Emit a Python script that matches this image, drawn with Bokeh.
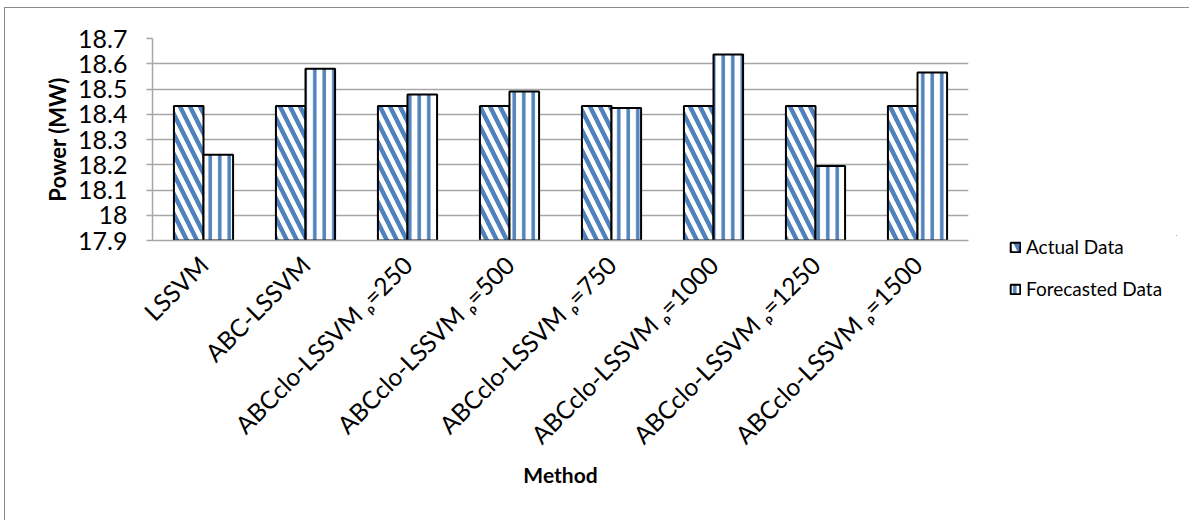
import math
from bokeh.plotting import figure
from bokeh.models import (ColumnDataSource, FactorRange, Range1d, FixedTicker,
                          CustomJSTickFormatter, Legend, LegendItem)
from bokeh.transform import dodge
from bokeh.embed import file_html
from bokeh.resources import INLINE

# ---- data ----
methods = ["LSSVM", "ABC-LSSVM", "ABCclo-LSSVM \u1d68=250", "ABCclo-LSSVM \u1d68=500",
           "ABCclo-LSSVM \u1d68=750", "ABCclo-LSSVM \u1d68=1000",
           "ABCclo-LSSVM \u1d68=1250", "ABCclo-LSSVM \u1d68=1500"]
actual = [18.433, 18.433, 18.433, 18.433, 18.433, 18.433, 18.433, 18.433]
forecast = [18.24, 18.58, 18.478, 18.49, 18.425, 18.637, 18.195, 18.565]
y_ticks = [17.9, 18.0, 18.1, 18.2, 18.3, 18.4, 18.5, 18.6, 18.7]
y_min, y_max = 17.9, 18.7
series_names = ["Actual Data", "Forecasted Data"]

BLUE = "#4F81BD"
GRID = "#A6A6A6"
FONT = "Lato"

ACT_STYLE = dict(fill_color="white", line_color="black", line_width=2,
                 hatch_pattern="left_diagonal_line", hatch_color=BLUE,
                 hatch_weight=4.5, hatch_scale=20)
FC_STYLE = dict(fill_color="white", line_color="black", line_width=2,
                hatch_pattern="vertical_line", hatch_color=BLUE,
                hatch_weight=3.5, hatch_scale=9.5)

src = ColumnDataSource(data=dict(method=methods, actual=actual, forecast=forecast))

p = figure(x_range=FactorRange(*methods), y_range=Range1d(y_min, y_max),
           width=1185, height=513, output_backend="svg", toolbar_location=None,
           min_border_left=147, min_border_top=30, min_border_right=222,
           min_border_bottom=281)
p.styles = {"margin-left": "4px", "margin-top": "7px",
            "border-left": "1px solid #8c8c8c", "border-top": "1px solid #8c8c8c"}
p.outline_line_color = None
p.background_fill_color = "white"
p.border_fill_color = "white"

bw = 0.29
p.vbar(x=dodge("method", -bw / 2, range=p.x_range), top="actual", bottom=y_min,
       width=bw, source=src, **ACT_STYLE)
p.vbar(x=dodge("method", bw / 2, range=p.x_range), top="forecast", bottom=y_min,
       width=bw, source=src, **FC_STYLE)

# grid
p.xgrid.grid_line_color = None
p.ygrid.grid_line_color = GRID
p.ygrid.grid_line_width = 1.5

# y axis
p.yaxis.ticker = FixedTicker(ticks=y_ticks)
p.yaxis.formatter = CustomJSTickFormatter(code="return String(Math.round(tick*10)/10);")
p.yaxis.axis_line_color = GRID
p.yaxis.axis_line_width = 1.5
p.yaxis.major_tick_line_color = GRID
p.yaxis.major_tick_line_width = 1.5
p.yaxis.major_tick_out = 6
p.yaxis.major_tick_in = 0
p.yaxis.minor_tick_line_color = None
p.yaxis.major_label_standoff = 19
p.yaxis.major_label_text_font = FONT
p.yaxis.major_label_text_font_size = "25px"
p.yaxis.major_label_text_color = "black"
p.yaxis.axis_label = "Power (MW)"
p.yaxis.axis_label_text_font = FONT
p.yaxis.axis_label_text_font_style = "bold"
p.yaxis.axis_label_text_font_size = "22px"
p.yaxis.axis_label_text_color = "black"
p.yaxis.axis_label_standoff = 4

# x axis
p.xaxis.axis_line_color = GRID
p.xaxis.axis_line_width = 1.5
p.xaxis.major_tick_line_color = None
p.xaxis.minor_tick_line_color = None
p.xaxis.major_label_orientation = math.pi / 4
p.xaxis.major_label_standoff = 14
p.xaxis.major_label_text_font = FONT
p.xaxis.major_label_text_font_size = "24.5px"
p.xaxis.major_label_text_color = "black"
p.xaxis.axis_label = "Method"
p.xaxis.axis_label_text_font = FONT
p.xaxis.axis_label_text_font_style = "bold"
p.xaxis.axis_label_text_font_size = "21px"
p.xaxis.axis_label_text_color = "black"
p.xaxis.axis_label_standoff = 0

# ---- legend: small separate figure placed over the chart's right margin ----
q = figure(width=168, height=80, output_backend="svg", toolbar_location=None,
           x_axis_type=None, y_axis_type=None, min_border=0,
           x_range=Range1d(0, 1), y_range=Range1d(0, 1))
q.styles = {"position": "absolute", "left": "1009px", "top": "235px"}
q.outline_line_color = None
q.grid.grid_line_color = None
q.background_fill_color = "white"
q.border_fill_color = "white"
# swatch renderers sit outside the visible range; only their legend swatches show
off = ColumnDataSource(data=dict(x=[5], top=[5]))
la = q.vbar(x="x", top="top", bottom=4, width=0.1, source=off, **ACT_STYLE)
lf = q.vbar(x="x", top="top", bottom=4, width=0.1, source=off, **FC_STYLE)

legend = Legend(items=[LegendItem(label=series_names[0], renderers=[la], index=0),
                       LegendItem(label=series_names[1], renderers=[lf], index=0)],
                location="top_left", orientation="vertical")
legend.border_line_color = None
legend.background_fill_alpha = 0
legend.padding = 0
legend.margin = 0
legend.spacing = 19
legend.glyph_width = 12
legend.glyph_height = 12
legend.label_height = 22
legend.label_standoff = 5
legend.label_text_font = FONT
legend.label_text_font_size = "19px"
legend.label_text_color = "black"
legend.label_text_baseline = "middle"
q.add_layout(legend, "center")

open("out.html", "w").write(file_html([p, q], INLINE))
